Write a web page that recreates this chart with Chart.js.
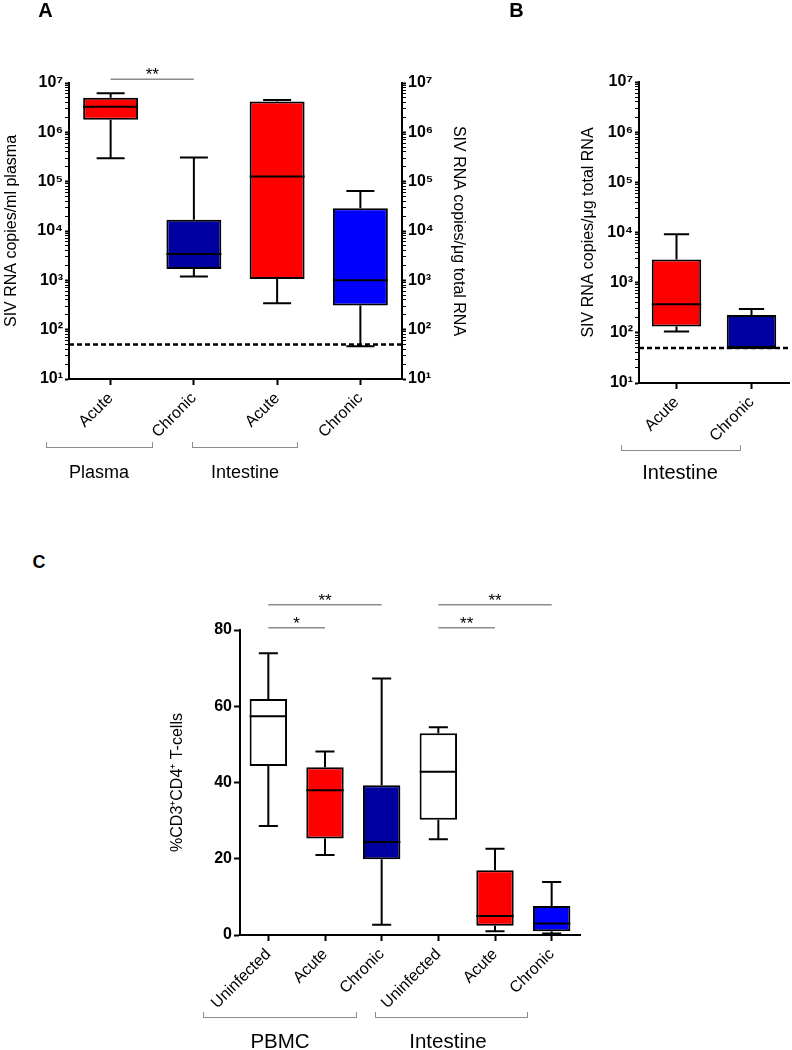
<!DOCTYPE html>
<html>
<head>
<meta charset="utf-8">
<script src="https://cdn.jsdelivr.net/npm/chart.js@4.4.0/dist/chart.umd.min.js"></script>
<style>
html,body{margin:0;padding:0;background:#fff;}
body{width:792px;height:1050px;position:relative;overflow:hidden;font-family:"Liberation Sans",Arial,Helvetica,sans-serif;}
canvas{position:absolute;}
.lbl{position:absolute;white-space:nowrap;line-height:1;color:#000;}
.br{position:absolute;border:1.5px solid #8c8c8c;border-top:none;box-sizing:border-box;height:6px;}
</style>
</head>
<body>
<canvas id="cA" width="480" height="500" style="left:0;top:0"></canvas>
<canvas id="cB" width="272" height="500" style="left:520px;top:0"></canvas>
<canvas id="cC" width="450" height="490" style="left:150px;top:560px"></canvas>
<script>
// ---------------- Panel A data ----------------
const categoriesA = ['Acute', 'Chronic', 'Acute', 'Chronic'];
const minA    = [3.0e5, 1.2e3, 345, 46];
const q1A     = [1.8e6, 1.7e3, 1.06e3, 310];
const medianA = [3.3e6, 3.4e3, 1.27e5, 1.0e3];
const q3A     = [5.0e6, 1.7e4, 4.2e6, 2.9e4];
const maxA    = [6.2e6, 3.1e5, 4.5e6, 6.5e4];
const groupsA = ['Plasma', 'Intestine'];
const sigA    = [[0, 1, '**', 1]];

// ---------------- Panel B data ----------------
const categoriesB = ['Acute', 'Chronic'];
const minB    = [106, 50];
const q1B     = [133, 50];
const medianB = [372, 50];
const q3B     = [2900, 228];
const maxB    = [9200, 297];
const groupsB = ['Intestine'];

// detection limit (dashed line) in A and B
const detectionLimit = 50;

// ---------------- Panel C data ----------------
const categoriesC = ['Uninfected', 'Acute', 'Chronic', 'Uninfected', 'Acute', 'Chronic'];
const minC    = [28.6, 21.0, 2.7, 25.1, 1.0, 0.4];
const q1C     = [44.3, 25.3, 19.9, 30.2, 2.4, 1.0];
const medianC = [57.4, 38.0, 24.4, 42.8, 5.0, 3.0];
const q3C     = [61.9, 44.0, 39.3, 52.9, 17.0, 7.6];
const maxC    = [73.9, 48.1, 67.3, 54.5, 22.6, 13.9];
const groupsC = ['PBMC', 'Intestine'];
const sigC    = [[0, 2, '**', 2], [0, 1, '*', 1], [3, 5, '**', 2], [3, 4, '**', 1]];

// ---------------- Tick labels ----------------
const logTickValues = [1e1, 1e2, 1e3, 1e4, 1e5, 1e6, 1e7];
const logTickLabels = ['10\u00B9', '10\u00B2', '10\u00B3', '10\u2074', '10\u2075', '10\u2076', '10\u2077'];
const linTickValuesC = [0, 20, 40, 60, 80];
const linTickLabelsC = ['0', '20', '40', '60', '80'];

// ---------------- Styles ----------------
const RED = '#ff0000', DARKBLUE = '#0000a0', BLUE = '#0000ff', WHITE = '#ffffff';
const colorsA = [RED, DARKBLUE, RED, BLUE];
const colorsB = [RED, DARKBLUE];
const colorsC = [WHITE, RED, DARKBLUE, WHITE, RED, BLUE];
const FONT = '"Liberation Sans", Arial, Helvetica, sans-serif';
Chart.defaults.font.family = FONT;
Chart.defaults.color = '#000';

const boxPlugin = {
  id: 'boxWhisker',
  afterDatasetsDraw(chart, args, o) {
    const ctx = chart.ctx, y = chart.scales.y, x = chart.scales.x, ca = chart.chartArea;
    const meta = chart.getDatasetMeta(0);
    ctx.save();
    ctx.strokeStyle = '#000';
    ctx.lineWidth = 2;
    meta.data.forEach((bar, i) => {
      const cx = bar.x, w = bar.width, cap = w * 0.255;
      const yTop = y.getPixelForValue(o.q3[i]), yBot = y.getPixelForValue(o.q1[i]);
      const yMax = y.getPixelForValue(o.max[i]), yMin = y.getPixelForValue(o.min[i]);
      const yMed = y.getPixelForValue(o.median[i]);
      ctx.beginPath();
      if (yMax < yTop - 0.5) {
        ctx.moveTo(cx, yTop); ctx.lineTo(cx, yMax);
        ctx.moveTo(cx - cap, yMax); ctx.lineTo(cx + cap, yMax);
      }
      if (yMin > yBot + 0.5) {
        ctx.moveTo(cx, yBot); ctx.lineTo(cx, yMin);
        ctx.moveTo(cx - cap, yMin); ctx.lineTo(cx + cap, yMin);
      }
      ctx.moveTo(cx - w / 2, yMed); ctx.lineTo(cx + w / 2, yMed);
      ctx.stroke();
    });
    if (o.lod != null) {
      const yl = y.getPixelForValue(o.lod);
      ctx.beginPath();
      ctx.setLineDash([5, 3]);
      ctx.lineWidth = 2.5;
      ctx.moveTo(ca.left, yl); ctx.lineTo(ca.right, yl);
      ctx.stroke();
      ctx.setLineDash([]);
    }
    (o.sig || []).forEach(([a, b, label, level]) => {
      const yy = ca.top - o.sigGap[level - 1];
      const xa = x.getPixelForValue(a), xb = x.getPixelForValue(b);
      ctx.beginPath();
      ctx.strokeStyle = '#8c8c8c';
      ctx.lineWidth = 1.5;
      ctx.moveTo(xa, yy); ctx.lineTo(xb, yy);
      ctx.stroke();
      ctx.fillStyle = '#000';
      ctx.font = '17px ' + FONT;
      ctx.textAlign = 'center';
      ctx.textBaseline = 'alphabetic';
      ctx.fillText(label, (xa + xb) / 2, yy + 1);
    });
    ctx.restore();
  }
};

function logY(position, width, titleText, titlePad) {
  return {
    type: 'logarithmic', position: position, min: 10, max: 1e7,
    afterBuildTicks(scale) {
      const t = [];
      for (let k = 0; k < logTickValues.length; k++) {
        const base = logTickValues[k];
        t.push({ value: base });
        if (k < logTickValues.length - 1) for (let m = 2; m <= 9; m++) t.push({ value: base * m });
      }
      scale.ticks = t;
    },
    afterFit(scale) { scale.width = width; },
    ticks: {
      autoSkip: false, padding: 2, color: '#000',
      font: { size: 16, weight: 'bold' },
      callback(v) { const k = logTickValues.indexOf(v); return k >= 0 ? logTickLabels[k] : ''; }
    },
    grid: {
      drawOnChartArea: false, drawTicks: true, tickLength: 4, tickColor: '#000',
      tickWidth: (c) => (c.tick && logTickValues.indexOf(c.tick.value) >= 0) ? 2 : 1
    },
    border: { display: true, color: '#000', width: 2 },
    title: { display: true, text: titleText, color: '#000', font: { size: 16 }, padding: { top: titlePad, bottom: 0 } }
  };
}

function catX(height, fontSize) {
  return {
    type: 'category', offset: true,
    afterFit(scale) { scale.height = height; },
    grid: { drawOnChartArea: false, drawTicks: true, tickLength: 6, tickWidth: 2, tickColor: '#000', offset: false },
    border: { display: true, color: '#000', width: 2 },
    ticks: { autoSkip: false, minRotation: 45, maxRotation: 45, padding: 4, color: '#000', font: { size: fontSize } }
  };
}

function makeBoxChart(id, labels, mn, q1, med, q3, mx, colors, scales, padding, extra) {
  return new Chart(document.getElementById(id), {
    type: 'bar',
    data: {
      labels: labels,
      datasets: [{
        data: q1.map((v, i) => [v, q3[i]]),
        backgroundColor: colors, borderColor: '#000', borderWidth: 2, borderSkipped: false,
        barPercentage: 0.66, categoryPercentage: 1
      }]
    },
    options: {
      responsive: false, animation: false,
      layout: { padding: padding },
      plugins: {
        legend: { display: false }, tooltip: { enabled: false },
        boxWhisker: Object.assign({ min: mn, q1: q1, median: med, q3: q3, max: mx }, extra)
      },
      scales: scales
    },
    plugins: [boxPlugin]
  });
}

// Panel A
makeBoxChart('cA', categoriesA, minA, q1A, medianA, q3A, maxA, colorsA, {
  x: catX(121, 16),
  y: logY('left', 69, 'SIV RNA copies/ml plasma', 2.4),
  y2: logY('right', 78, 'SIV RNA copies/\u03BCg total RNA', 12.4)
}, { left: 0, right: 0, top: 83, bottom: 0 }, { lod: detectionLimit, sig: sigA, sigGap: [3.7] });

// Panel B
makeBoxChart('cB', categoriesB, minB, q1B, medianB, q3B, maxB, colorsB, {
  x: catX(117, 16),
  y: logY('left', 119, 'SIV RNA copies/\u03BCg total RNA', 59.4)
}, { left: 0, right: 3, top: 82, bottom: 0 }, { lod: detectionLimit });

// Panel C
makeBoxChart('cC', categoriesC, minC, q1C, medianC, q3C, maxC, colorsC, {
  x: catX(115, 16),
  y: {
    type: 'linear', position: 'left', min: 0, max: 80,
    afterBuildTicks(scale) { scale.ticks = linTickValuesC.map(v => ({ value: v })); },
    afterFit(scale) { scale.width = 90; },
    ticks: {
      autoSkip: false, padding: 2, color: '#000', font: { size: 16, weight: 'bold' },
      callback(v) { const k = linTickValuesC.indexOf(v); return k >= 0 ? linTickLabelsC[k] : ''; }
    },
    grid: { drawOnChartArea: false, drawTicks: true, tickLength: 6, tickWidth: 2, tickColor: '#000' },
    border: { display: true, color: '#000', width: 2 },
    title: { display: true, text: '%CD3\u207ACD4\u207A T-cells', color: '#000', font: { size: 16 }, padding: { top: 18.4, bottom: 0 } }
  }
}, { left: 0, right: 20, top: 70, bottom: 0 }, { sig: sigC, sigGap: [2.3, 25.3] });

// ---------------- Text labels & brackets ----------------
function addText(txt, cx, baseline, size, weight) {
  const d = document.createElement('div');
  d.className = 'lbl';
  d.textContent = txt;
  d.style.fontSize = size + 'px';
  d.style.fontWeight = weight;
  d.style.top = (baseline - 0.8465 * size) + 'px';
  d.style.left = cx + 'px';
  d.style.transform = 'translateX(-50%)';
  document.body.appendChild(d);
}
function addBracket(left, right, bottom) {
  const d = document.createElement('div');
  d.className = 'br';
  d.style.left = left + 'px';
  d.style.width = (right - left) + 'px';
  d.style.top = (bottom - 6) + 'px';
  document.body.appendChild(d);
}
addText('A', 45.5, 16.5, 20, 'bold');
addText('B', 516.5, 17, 20, 'bold');
addText('C', 39, 568, 18, 'bold');

addBracket(46, 153, 448);
addBracket(192, 298, 448);
addText(groupsA[0], 99, 478, 18, 'normal');
addText(groupsA[1], 245, 478, 18, 'normal');

addBracket(621, 741, 451);
addText(groupsB[0], 680, 479, 20, 'normal');

addBracket(203, 357, 1018);
addBracket(375, 528, 1018);
addText(groupsC[0], 280, 1048, 20.5, 'normal');
addText(groupsC[1], 448, 1048, 20.5, 'normal');
</script>
</body>
</html>
